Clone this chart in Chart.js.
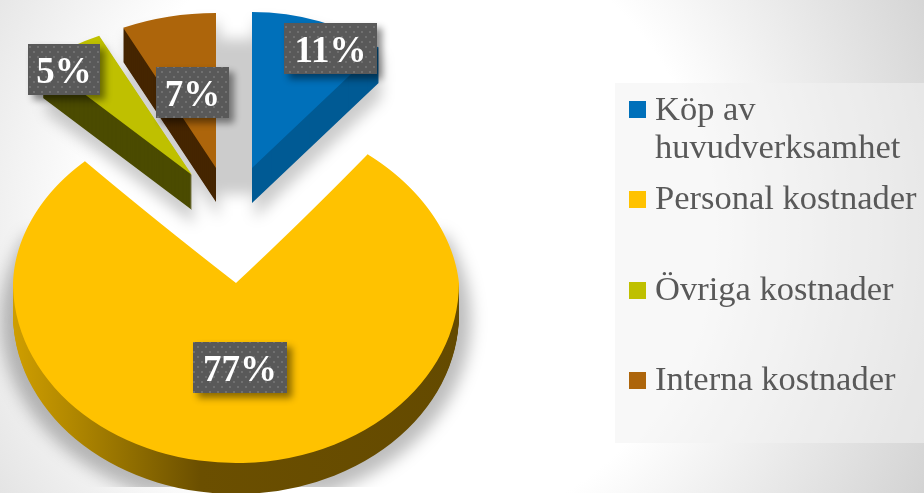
<!DOCTYPE html>
<html lang="sv"><head><meta charset="utf-8">
<script src="https://cdn.jsdelivr.net/npm/chart.js@4"></script>
<style>
html,body{margin:0;padding:0;width:924px;height:493px;overflow:hidden;
background:radial-gradient(circle at 400px 230px,#ffffff 0px,#ffffff 310px,#d4d4d4 580px,#d2d2d2 100%);}
#panel{position:absolute;left:615px;top:83px;width:309px;height:360px;background:rgba(242,242,242,.54);}
canvas{position:absolute;left:0;top:0;}
</style></head><body>
<div id="panel"></div>
<canvas id="c" width="924" height="493"></canvas>
<script>
const categories = ['Köp av huvudverksamhet','Personal kostnader','Övriga kostnader','Interna kostnader'];
const values = [11,77,5,7];
const tickLabels = ['11%','77%','5%','7%'];
const colors = ['#0070ba','#ffc200','#bfc000','#ad650b'];
const sideColors = ['#005a94',null,'#4b4b00','#452500'];

// presentation geometry (exploded, tilted pie)
const look = [
 {cx:252,cy:168,rx:199,ry:156,d:35},
 {cx:236,cy:283,rx:223,ry:180,d:31},
 {cx:192,cy:175,rx:218,ry:154,d:35},
 {cx:216,cy:168,rx:218,ry:155,d:34}
];
const farRy = 167;
const tags = [
 {x:284,y:23,w:93,h:51},{x:193,y:342,w:94,h:51},{x:28,y:44,w:72,h:51},{x:156,y:67,w:73,h:51}
];
const legendRows = [
 {y:101,lines:[['Köp av',120],['huvudverksamhet',158]]},
 {y:191,lines:[['Personal kostnader',209]]},
 {y:282,lines:[['Övriga kostnader',300]]},
 {y:372,lines:[['Interna kostnader',390]]}
];

function place(ctx,arc,l,dx,dy){
  const R=arc.outerRadius;
  ctx.translate(l.cx+(dx||0),l.cy+(dy||0));
  ctx.scale(l.rx/R,l.ry/R);
  ctx.translate(-arc.x,-arc.y);
}
function paint(ctx,arc,l,fill,dx,dy){
  const o=arc.options;
  arc.options=Object.assign(Object.create(o),{backgroundColor:fill});
  ctx.save();place(ctx,arc,l,dx,dy);arc.draw(ctx);ctx.restore();
  arc.options=o;
}
function dotPattern(ctx){
  const p=document.createElement('canvas');p.width=8;p.height=10;
  const g=p.getContext('2d');
  g.fillStyle='#595959';g.fillRect(0,0,8,10);
  g.fillStyle='#707070';g.fillRect(1,1,2,2);g.fillRect(5,6,2,2);
  return ctx.createPattern(p,'repeat');
}
function blurred(ctx,blur,alpha,clipBottom,fn){
  const off=document.createElement('canvas');off.width=924;off.height=493;
  fn(off.getContext('2d'));
  ctx.save();
  ctx.beginPath();ctx.rect(0,0,924,clipBottom);ctx.clip();
  ctx.filter='blur('+blur+'px)';ctx.globalAlpha=alpha;ctx.drawImage(off,0,0);ctx.restore();
}
const pie3d={
  id:'pie3d',
  beforeDatasetsDraw(chart){
    const ctx=chart.ctx, arcs=chart.getDatasetMeta(0).data;
    // soft cast shadows
    blurred(ctx,7,.2,493,sc=>{
      [0,2,3].forEach(i=>{
        const l=look[i];
        for(let d=0;d<=l.d+6;d+=2) paint(sc,arcs[i],l,'#000',3,d+10);
      });
      for(let x=0;x<=36;x+=2) paint(sc,arcs[0],look[0],'#000',-x,27);
    });
    blurred(ctx,8,.26,487,sc=>{
      const m=look[1];
      sc.save();sc.beginPath();sc.rect(0,235,924,258);sc.clip();
      paint(sc,arcs[1],{cx:m.cx,cy:m.cy,rx:m.rx+12,ry:m.ry+8},'#000',0,m.d+6);
      sc.restore();
    });
    // solid slices with extruded sides
    [1,2,3,0].forEach(i=>{
      const a=arcs[i],l=look[i];let side=sideColors[i];
      if(i===1){
        const R=a.outerRadius,g=ctx.createLinearGradient(a.x-R,0,a.x+R,0);
        g.addColorStop(0,'#cf9e00');g.addColorStop(.12,'#b48a00');g.addColorStop(.27,'#8f6d00');
        g.addColorStop(.42,'#6b4f00');g.addColorStop(1,'#644a00');side=g;
        ctx.save();ctx.beginPath();ctx.rect(0,l.cy,924,493-l.cy);ctx.clip();
        for(let d=l.d;d>0;d--) paint(ctx,a,l,side,0,d);
        paint(ctx,a,l,colors[i],0,0);
        ctx.restore();
        // far half narrows toward the back of the tilted disc
        for(let y=l.cy-1;y>=l.cy-farRy;y--){
          const v=(l.cy-y)/farRy;
          ctx.save();ctx.beginPath();ctx.rect(0,y,924,1);ctx.clip();
          paint(ctx,a,{cx:l.cx-6*v,cy:l.cy,rx:l.rx-12*v,ry:farRy},colors[i],0,0);
          ctx.restore();
        }
        return;
      }
      for(let d=l.d;d>0;d--) paint(ctx,a,l,side,0,d);
      paint(ctx,a,l,colors[i],0,0);
    });
    return false;
  },
  afterDraw(chart){
    const ctx=chart.ctx,pat=dotPattern(ctx);
    tags.forEach((t,i)=>{
      ctx.save();
      ctx.shadowColor='rgba(0,0,0,.45)';ctx.shadowBlur=7;ctx.shadowOffsetX=5;ctx.shadowOffsetY=5;
      ctx.fillStyle='#595959';ctx.fillRect(t.x,t.y,t.w,t.h);ctx.restore();
      ctx.fillStyle=pat;ctx.fillRect(t.x,t.y,t.w,t.h);
      ctx.fillStyle='#fff';ctx.font='bold 37px "Liberation Serif"';
      ctx.textAlign='center';ctx.textBaseline='alphabetic';
      ctx.fillText(tickLabels[i],t.x+t.w/2,t.y+39);
    });
    ctx.textAlign='left';
    legendRows.forEach((r,i)=>{
      ctx.fillStyle=colors[i];ctx.fillRect(629,r.y,17,17);
      ctx.fillStyle='#595959';ctx.font='34.5px "Liberation Serif"';
      r.lines.forEach(([s,y])=>ctx.fillText(s,655,y));
    });
  }
};
new Chart(document.getElementById('c'),{
  type:'pie',
  data:{labels:categories,datasets:[{data:values,backgroundColor:colors,borderWidth:0}]},
  options:{responsive:false,animation:false,devicePixelRatio:1,
    plugins:{legend:{display:false},tooltip:{enabled:false}}},
  plugins:[pie3d]
});
</script></body></html>
